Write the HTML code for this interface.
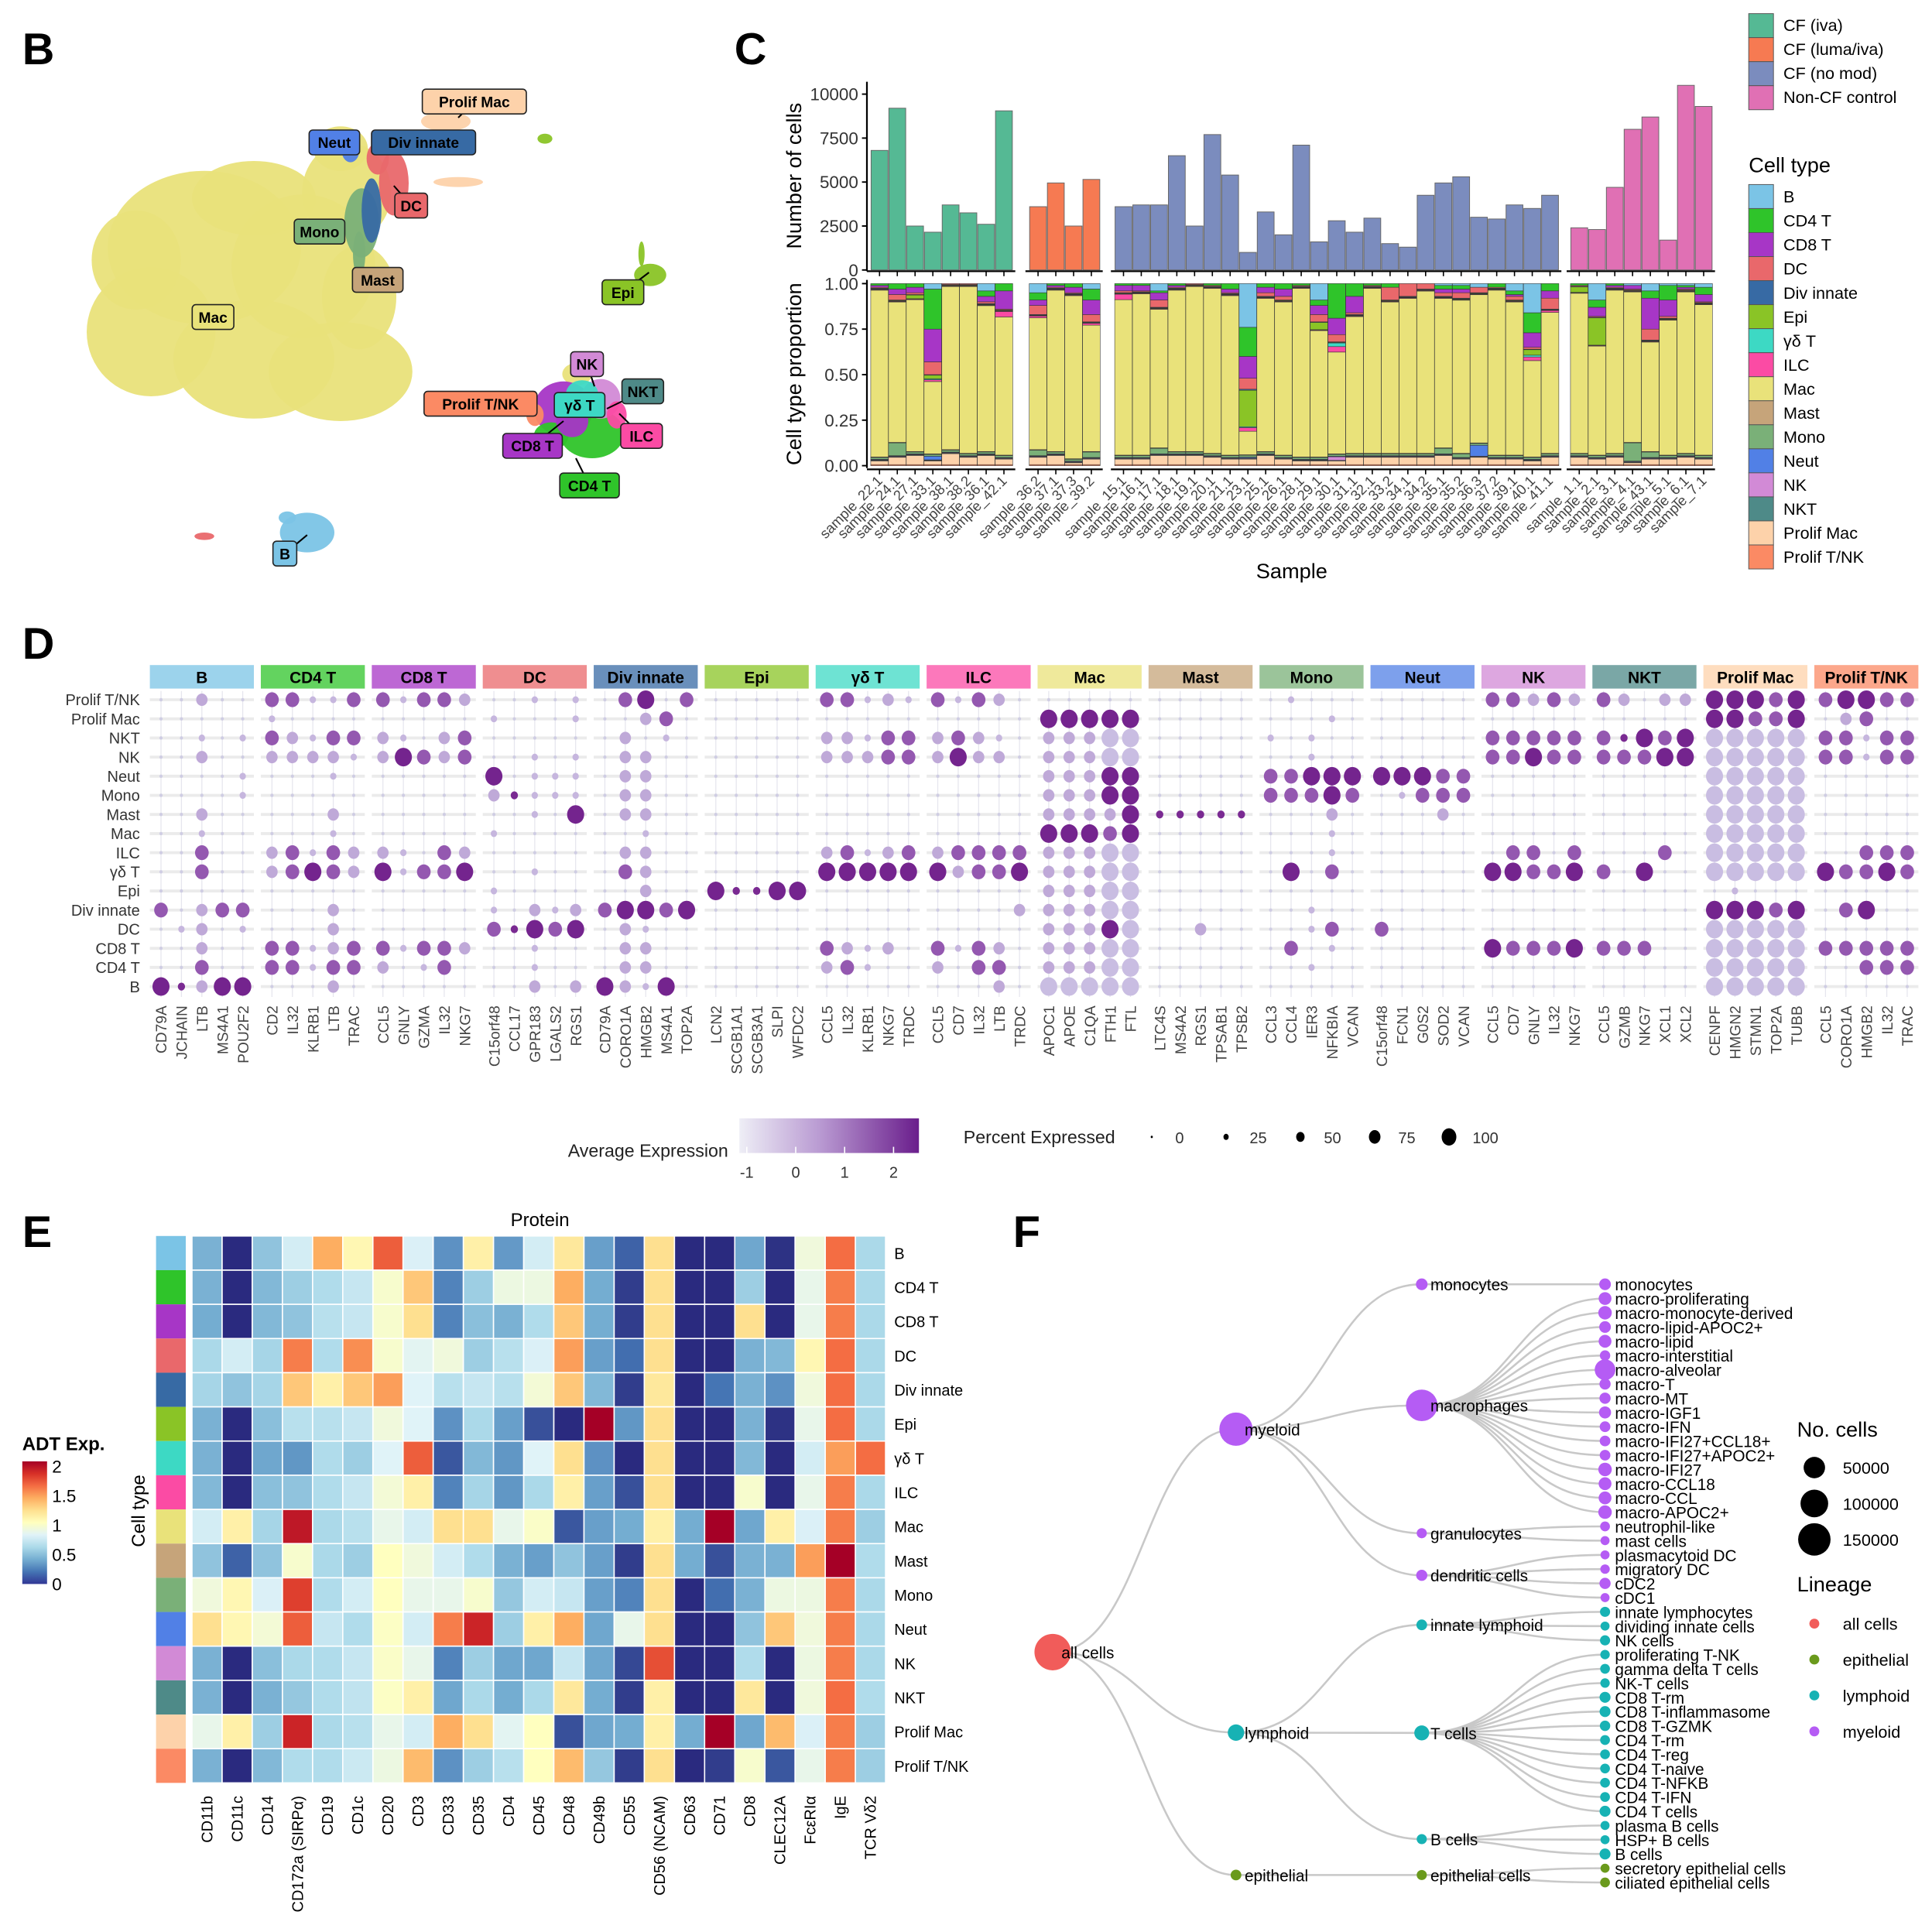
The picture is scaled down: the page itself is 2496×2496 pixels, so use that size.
<!DOCTYPE html>
<html><head><meta charset="utf-8">
<style>
html,body{margin:0;padding:0;background:#fff;}
svg{display:block;font-family:"Liberation Sans",Arial,sans-serif;}
</style></head>
<body>
<svg id="fig" xmlns="http://www.w3.org/2000/svg" width="2496" height="2496" viewBox="0 0 1560 1560">
<defs>
<linearGradient id="gAvg" x1="0" x2="1" y1="0" y2="0">
<stop offset="0" stop-color="#eeeef6"/><stop offset="0.45" stop-color="#b99ad2"/><stop offset="1" stop-color="#6a1e8c"/>
</linearGradient>
<linearGradient id="gAdt" x1="0" x2="0" y1="1" y2="0">
<stop offset="0" stop-color="#313695"/><stop offset="0.1" stop-color="#4575b4"/><stop offset="0.2" stop-color="#74add1"/><stop offset="0.3" stop-color="#abd9e9"/><stop offset="0.4" stop-color="#e0f3f8"/><stop offset="0.5" stop-color="#ffffbf"/><stop offset="0.6" stop-color="#fee090"/><stop offset="0.7" stop-color="#fdae61"/><stop offset="0.8" stop-color="#f46d43"/><stop offset="0.9" stop-color="#d73027"/><stop offset="1" stop-color="#a50026"/>
</linearGradient>
</defs>
</svg>
<script>
// ===== Panel C data =====
const groupNames = ["CF (iva)","CF (luma/iva)","CF (no mod)","Non-CF control"];
const groupColors = ["#55b994","#f67a52","#7b8cbe","#e070b4"];
const samplesIva = ["sample_22.1","sample_24.1","sample_27.1","sample_33.1","sample_38.1","sample_38.2","sample_36.1","sample_42.1"];
const samplesLuma = ["sample_36.2","sample_37.1","sample_37.3","sample_39.2"];
const samplesNoMod = ["sample_15.1","sample_16.1","sample_17.1","sample_18.1","sample_19.1","sample_20.1","sample_21.1","sample_23.1","sample_25.1","sample_26.1","sample_28.1","sample_29.1","sample_30.1","sample_31.1","sample_32.1","sample_33.2","sample_34.1","sample_34.2","sample_35.1","sample_35.2","sample_36.3","sample_37.2","sample_39.1","sample_40.1","sample_41.1"];
const samplesCtrl = ["sample_1.1","sample_2.1","sample_3.1","sample_4.1","sample_43.1","sample_5.1","sample_6.1","sample_7.1"];
const countsIva = [6800,9200,2500,2150,3700,3250,2600,9050];
const countsLuma = [3600,4950,2500,5150];
const countsNoMod = [3600,3700,3700,6500,2500,7700,5400,1000,3300,2000,7100,1600,2800,2150,2950,1500,1300,4250,4950,5300,3000,2900,3700,3500,4250];
const countsCtrl = [2400,2300,4700,8000,8700,1700,10500,9300];
const countTicks = [0,2500,5000,7500,10000];
const propTicks = [0,0.25,0.5,0.75,1];
const propTickLabels = ["0.00","0.25","0.50","0.75","1.00"];
const cellTypes = ["B","CD4 T","CD8 T","DC","Div innate","Epi","γδ T","ILC","Mac","Mast","Mono","Neut","NK","NKT","Prolif Mac","Prolif T/NK"];
const cellColors = ["#7bc4e6","#2fc42a","#a736c6","#e9686b","#376aa4","#8ac426","#3dd9c4","#fb4ba4","#e9e27a","#c6a47a","#7ab078","#5180e6","#d28ad6","#4e8a88","#fdd2aa","#fb8a64"];
const propB    = [0,0,0,.03,0,0,.04,0, .05,0,0,.03, 0,0,.04,0,0,0,0,.24,0,0,0,.09,0,0,0,0,0,0,.01,.01,.02,0,.04,.16,0, 0,.09,0,.01,.04,.01,.01,.02];
const propCD4  = [.01,.03,.02,.22,0,0,.03,.04, .04,.01,.02,.06, .01,.01,.01,.01,0,.01,.03,.16,.02,.03,.01,.03,.19,.07,.01,.02,0,0,.02,.02,0,.02,.02,.11,.04, .01,.04,.01,0,.04,.08,.01,.04];
const propCD8  = [.01,.03,.03,.18,0,0,.03,.10, .03,.01,.03,.08, .03,.03,.04,.01,0,0,.02,.12,.03,.04,0,.05,.09,.09,0,0,0,0,.02,.02,0,0,.01,.08,.04, 0,.05,.01,.02,.17,.09,.01,.04];
const propDC   = [.005,.03,.01,.07,.005,.005,.01,.005, .05,.005,.005,.04, .01,.005,.04,.005,.005,.005,.005,.06,.02,.02,.005,.04,.04,.01,.005,.07,.07,.03,.02,.03,.03,.005,.02,.01,.06, .005,.005,.005,.005,.06,.01,.005,.005];
const propDiv  = [.003,.003,.003,.003,.003,.003,.003,.003, .003,.003,.003,.003, .003,.003,.003,.003,.003,.003,.003,.006,.003,.003,.003,.003,.003,.003,.003,.003,.003,.003,.003,.003,.003,.003,.003,.003,.003, .003,.003,.003,.003,.003,.003,.003,.003];
const propEpi  = [.003,.003,.02,.02,.003,.003,.003,.003, .003,.003,.003,.003, .003,.003,.003,.003,.003,.003,.003,.20,.003,.003,.003,.04,.003,.003,.003,.003,.003,.003,.003,.003,.003,.003,.003,.03,.003, .03,.15,.003,.003,.003,.003,.003,.003];
const propGdT  = [.002,.002,.002,.005,.002,.002,.002,.002, .002,.002,.002,.002, .002,.002,.002,.002,.002,.002,.002,.005,.002,.002,.002,.002,.02,.002,.002,.002,.002,.002,.002,.002,.002,.002,.002,.01,.002, .002,.002,.002,.002,.002,.002,.002,.002];
const propILC  = [.003,.003,.003,.01,.003,.003,.003,.03, .01,.003,.003,.01, .03,.003,.003,.003,.003,.003,.003,.02,.003,.003,.003,.003,.03,.003,.003,.003,.003,.003,.003,.003,.003,.003,.003,.02,.01, .003,.003,.003,.003,.003,.003,.003,.003];
const propMast = [.003,.003,.003,.003,.003,.003,.003,.003, .003,.003,.003,.003, .003,.003,.003,.003,.003,.003,.003,.003,.003,.003,.003,.003,.003,.003,.003,.003,.003,.003,.003,.003,.003,.003,.003,.003,.003, .003,.003,.003,.003,.003,.003,.003,.003];
const propMono = [.01,.07,.01,.01,.01,.01,.01,.01, .03,.01,.01,.03, .01,.01,.03,.01,.01,.01,.01,.01,.01,.01,.01,.01,.01,.01,.01,.01,.01,.01,.03,.02,.01,.01,.01,.01,.01, .01,.01,.01,.10,.03,.01,.01,.01];
const propNeut = [.003,.003,.003,.02,.003,.003,.003,.003, .003,.003,.003,.003, .003,.003,.003,.003,.003,.003,.003,.005,.003,.003,.003,.003,.003,.003,.003,.003,.003,.003,.003,.003,.06,.003,.003,.003,.003, .003,.003,.003,.003,.003,.003,.003,.003];
const propNK   = [.003,.003,.003,.003,.003,.003,.003,.003, .003,.003,.003,.003, .003,.003,.003,.003,.003,.003,.003,.003,.003,.003,.003,.003,.02,.003,.003,.003,.003,.003,.003,.003,.003,.003,.003,.003,.003, .003,.003,.003,.003,.003,.003,.003,.003];
const propNKT  = [.003,.003,.003,.003,.003,.003,.003,.003, .003,.003,.003,.003, .003,.003,.003,.003,.003,.003,.003,.003,.003,.003,.003,.003,.003,.003,.003,.003,.003,.003,.003,.003,.003,.003,.003,.003,.003, .003,.003,.003,.003,.003,.003,.003,.003];
const propPMac = [.02,.04,.05,.02,.06,.04,.05,.03, .04,.05,.01,.03, .03,.03,.05,.05,.05,.04,.03,.03,.05,.03,.02,.02,.02,.04,.04,.04,.04,.04,.05,.03,.04,.03,.03,.02,.04, .04,.03,.04,.01,.03,.03,.04,.03];
const propPTNK = [.006,.006,.006,.006,.006,.006,.006,.006, .006,.006,.006,.006, .006,.006,.006,.006,.006,.006,.006,.006,.006,.006,.006,.006,.006,.006,.006,.006,.006,.006,.006,.006,.006,.006,.006,.006,.006, .006,.006,.006,.006,.006,.006,.006,.006];

// ===== Panel D data =====
const dotGroups = ["B","CD4 T","CD8 T","DC","Div innate","Epi","γδ T","ILC","Mac","Mast","Mono","Neut","NK","NKT","Prolif Mac","Prolif T/NK"];
const dotGenes = ["CD79A","JCHAIN","LTB","MS4A1","POU2F2","CD2","IL32","KLRB1","LTB","TRAC","CCL5","GNLY","GZMA","IL32","NKG7","C15orf48","CCL17","GPR183","LGALS2","RGS1","CD79A","CORO1A","HMGB2","MS4A1","TOP2A","LCN2","SCGB1A1","SCGB3A1","SLPI","WFDC2","CCL5","IL32","KLRB1","NKG7","TRDC","CCL5","CD7","IL32","LTB","TRDC","APOC1","APOE","C1QA","FTH1","FTL","LTC4S","MS4A2","RGS1","TPSAB1","TPSB2","CCL3","CCL4","IER3","NFKBIA","VCAN","C15orf48","FCN1","G0S2","SOD2","VCAN","CCL5","CD7","GNLY","IL32","NKG7","CCL5","GZMB","NKG7","XCL1","XCL2","CENPF","HMGN2","STMN1","TOP2A","TUBB","CCL5","CORO1A","HMGB2","IL32","TRAC"];
const dotRows = ["Prolif T/NK","Prolif Mac","NKT","NK","Neut","Mono","Mast","Mac","ILC","γδ T","Epi","Div innate","DC","CD8 T","CD4 T","B"];
const dotLevels = [
"..q.. bbaab babbq ..a.a .bc.b ..... bbaqa babq. ..... ..... .a... ..... bbqbq bq.qq cccbc bccbb",
"..... a.... ..... a...a ..qb. ..... ..... ..... ccccc ..... ...a. ..... ..... ..... ccbbc .qb..",
"..a.a bqabb qa.qb ..... .q.a. ..... qqabb qbqa. qqqpp ..... a.a.. ..... bbbbb bdcbc ppppp bbabb",
"..q.. qqqqa qcbqb ..a.a .qq.. ..... qqqbb qcqq. qqqpp ..... ..a.. ..... bbcbb bbbcc ppppp bbabb",
"....a ...a. ..... c.aaa .qq.. ..... ..... ..... qqqcc ..... bbccc cccbb ..... ..... ppppp .....",
"....a ..... ..... qdaaa .qq.. ..... ..... ..... qqqcc ..... bbbcb .abbb ..... ..... ppppp .....",
"..q.. ...q. ..... ..a.c .qq.. ..... ..... ..... qqqqc ddddd ...q. ...q. ..... ..... ppppp .....",
"..a.. ...a. ..... a.... ..a.. ..... ..... ..... cccbc ..... ...a. ..... ..... ..... ppppp .....",
"..b.. qbabq qa.bq ..... .qq.. ..... qbaqb qbbbb qqqpp ..... ...a. ..... .bb.b ...b. ppppp ..bbb",
"..b.. qbcbq cabbc ..a.. .bq.. ..... ccccc cqbbc qqqpp ..... .c.b. ..... ccbbc b.c.. ppppp cbbcb",
"..... ..... ..... a.... ..q.. cddcc ..... ..... qqqpp ..... ..... ..... ..... ..... .a... .....",
"b.qbb ...q. ..... a.qaq bccbc ..... ..... ....q qqqpp ..... ..a.. ..... ..... ..... cccbc .bc..",
".aq.a ...q. ..... bdcbc .qa.. ..... ..... ..... qqqcp ..q.. ..ab. b.... ..... ..... ppppp .....",
"..q.. bbaqb babbq ..a.. .qq.. ..... bqaq. babq. qqqpp ..... .b.a. ..... cbbbc bbb.. ppppp bbbbb",
"..b.. bbabb q.ab. ..a.. .qq.. ..... qba.. q.bb. qqqpp ..... ..a.. ..... ..... ..... ppppp ..bbb",
"cdqcc ...q. ..... ..q.q cqac. ..... ..... ...q. ppppp ..... ..... ..... ..... ..... ppppp ....."
];
const avgTicks = [-1,0,1,2];
const pctTicks = [0,25,50,75,100];

// ===== Panel E data =====
const proteins = ["CD11b","CD11c","CD14","CD172a (SIRPα)","CD19","CD1c","CD20","CD3","CD33","CD35","CD4","CD45","CD48","CD49b","CD55","CD56 (NCAM)","CD63","CD71","CD8","CLEC12A","FcεRIα","IgE","TCR Vδ2"];
const heatRows = ["B","CD4 T","CD8 T","DC","Div innate","Epi","γδ T","ILC","Mac","Mast","Mono","Neut","NK","NKT","Prolif Mac","Prolif T/NK"];
const adtB    = [.42,0,.5,.75,1.4,1.05,1.65,.78,.3,1.1,.33,.75,1.15,.35,.15,1.2,0,0,.38,.02,.9,1.6,.6];
const adtCD4  = [.42,0,.45,.55,.62,.7,.95,1.3,.25,.55,.88,.88,1.4,.4,.05,1.2,0,0,.55,0,.85,1.55,.6];
const adtCD8  = [.4,0,.45,.5,.65,.7,.95,1.2,.25,.48,.42,.62,1.3,.4,.05,1.2,0,0,1.2,0,.85,1.55,.6];
const adtDC   = [.6,.75,.58,1.55,.62,1.5,.95,.82,.9,.55,.65,.78,1.45,.35,.18,1.2,0,0,.42,.45,1.05,1.6,.6];
const adtDiv  = [.58,.5,.58,1.3,1.1,1.3,1.45,.8,.65,.7,.65,.92,1.3,.45,.05,1.15,0,.2,.42,.3,.9,1.6,.6];
const adtEpi  = [.42,0,.48,.65,.65,.7,.9,.8,.3,.6,.35,.1,0,2.0,.32,1.2,0,0,.42,.02,.85,1.6,.6];
const adtGdT  = [.42,0,.38,.32,.62,.55,.8,1.65,.12,.45,.32,.8,1.2,.3,0,1.2,0,0,.45,0,.75,1.45,1.6];
const adtILC  = [.45,0,.48,.5,.62,.7,.92,1.1,.25,.58,.32,.6,1.1,.35,.1,1.2,0,0,.95,0,.85,1.55,.6];
const adtMac  = [.75,1.1,.58,1.9,.6,.65,.85,.75,1.2,1.2,.85,.97,.12,.35,.4,1.1,.4,2.0,.38,1.1,.78,1.55,.55];
const adtMast = [.5,.15,.5,.95,.6,.55,1.0,.9,.75,.62,.42,.35,.5,.35,.05,1.2,.4,.1,.42,.42,1.45,2.0,.62];
const adtMono = [.9,1.05,.78,1.75,.62,.75,1.0,.85,.85,.95,.52,.75,.7,.35,.25,1.2,0,.18,.42,.88,.88,1.55,.6];
const adtNeut = [1.2,1.05,.92,1.65,.7,.62,.98,.75,1.55,1.85,.55,1.1,1.4,.38,.85,1.2,0,0,.5,1.3,.9,1.55,.6];
const adtNK   = [.42,0,.48,.6,.62,.7,.97,.85,.25,.55,.38,.38,.7,.38,.08,1.7,0,0,.62,0,.88,1.55,.6];
const adtNKT  = [.42,0,.42,.52,.62,.68,.98,1.1,.38,.6,.4,.6,1.15,.4,.05,1.1,0,0,1.15,0,.9,1.6,.62];
const adtPMac = [.85,1.1,.55,1.85,.6,.65,.85,.75,1.4,1.2,.82,1.0,.1,.38,.4,1.1,.4,2.0,.38,1.35,.78,1.55,.55];
const adtPTNK = [.42,0,.45,.62,.62,.72,.88,1.35,.3,.55,.65,1.0,1.35,.52,.05,1.2,0,.05,.95,.12,.85,1.55,.55];
const adtTicks = [0,0.5,1,1.5,2];

// ===== Panel F data =====
const treeNames = ["all cells","myeloid","lymphoid","epithelial","monocytes","macrophages","granulocytes","dendritic cells","innate lymphoid","T cells","B cells","epithelial cells"];
const treeParents = [-1,0,0,0,1,1,1,1,2,2,2,3];
const treeDepth = [0,1,1,1,2,2,2,2,2,2,2,2];
const treeLineage = ["all cells","myeloid","lymphoid","epithelial","myeloid","myeloid","myeloid","myeloid","lymphoid","lymphoid","lymphoid","epithelial"];
const treeCounts = [200000,160000,22000,4000,6000,140000,3000,5000,4000,16000,3000,3000];
const leafNames = ["monocytes","macro-proliferating","macro-monocyte-derived","macro-lipid-APOC2+","macro-lipid","macro-interstitial","macro-alveolar","macro-T","macro-MT","macro-IGF1","macro-IFN","macro-IFI27+CCL18+","macro-IFI27+APOC2+","macro-IFI27","macro-CCL18","macro-CCL","macro-APOC2+","neutrophil-like","mast cells","plasmacytoid DC","migratory DC","cDC2","cDC1","innate lymphocytes","dividing innate cells","NK cells","proliferating T-NK","gamma delta T cells","NK-T cells","CD8 T-rm","CD8 T-inflammasome","CD8 T-GZMK","CD4 T-rm","CD4 T-reg","CD4 T-naive","CD4 T-NFKB","CD4 T-IFN","CD4 T cells","plasma B cells","HSP+ B cells","B cells","secretory epithelial cells","ciliated epithelial cells"];
const leafParents = [4,5,5,5,5,5,5,5,5,5,5,5,5,5,5,5,5,6,6,7,7,7,7,8,8,8,9,9,9,9,9,9,9,9,9,9,9,9,10,10,10,11,11];
const leafCounts = [6000,9000,11000,6000,9000,3500,45000,5000,5000,7000,4000,4000,4000,11000,9000,9000,11000,2500,1500,1500,2000,5000,1500,3000,1500,3000,2000,2500,2000,4500,4500,3500,2500,2500,2500,2500,2500,4500,1500,1500,4500,1500,2500];
const lineageNames = ["all cells","epithelial","lymphoid","myeloid"];
const lineageColors = ["#f15c5a","#6a9a1c","#17b2b4","#b55cf4"];
const sizeLegend = [50000,100000,150000];

// ===== drawing helpers =====
const NS = "http://www.w3.org/2000/svg";
const svg = document.getElementById("fig");
function mk(tag, attrs, parent){
  const e = document.createElementNS(NS, tag);
  for (const k in attrs) e.setAttribute(k, attrs[k]);
  (parent || svg).appendChild(e);
  return e;
}
function tx(x, y, s, attrs, parent){
  const e = mk("text", Object.assign({x:x, y:y}, attrs || {}), parent);
  e.textContent = s;
  return e;
}
function grp(parent){ return mk("g", {}, parent); }

[["B",18,52],["C",593,52],["D",18,532],["E",18,1007],["F",818,1007]].forEach(p=>{
  const t = tx(p[1], p[2], p[0], {"font-size":36,"font-weight":"bold"});
  
  
});

// ===== Panel B: UMAP =====
const umap = grp();


const blobs = [
 [165,200,78,62,"#e9e27a"],[122,268,52,52,"#e9e27a"],[205,290,65,48,"#e9e27a"],[275,300,58,40,"#e9e27a"],[245,215,58,58,"#e9e27a"],[290,240,30,42,"#e9e27a"],[110,210,36,40,"#e9e27a"],[205,160,50,30,"#e9e27a"],[280,155,36,40,"#e9e27a"],[275,120,22,18,"#e9e27a"],
 [292,180,14,28,"#7ab078"],[300,170,8,26,"#376aa4"],[318,148,12,26,"#e9686b"],[305,128,9,13,"#e9686b"],[283,122,7,9,"#5180e6"],[360,98,20,8,"#fdd2aa"],[370,147,20,4,"#fdd2aa"],[290,205,5,18,"#7ab078"],
 [525,222,13,9,"#8ac426"],[518,205,2.5,10,"#8ac426"],[440,112,6,4,"#8ac426"],
 [466,302,12,9,"#e9e27a"],[455,330,24,22,"#a736c6"],[478,350,26,20,"#2fc42a"],[485,322,16,16,"#d28ad6"],[470,318,13,11,"#3dd9c4"],[498,335,8,11,"#fb4ba4"],[445,352,14,11,"#2fc42a"],[432,335,7,9,"#fb8a64"],[462,340,13,13,"#a736c6"],
 [248,430,22,16,"#7bc4e6"],[232,418,7,5,"#7bc4e6"],[165,433,8,3,"#e9686b"]];
blobs.forEach(b=>{
  const e = mk("ellipse",{cx:b[0],cy:b[1],rx:b[2],ry:b[3],fill:b[4],opacity:0.95},umap);
  
  
});
const umapLabels = [
 ["Prolif Mac",383,82,"#fdd2aa",370,95],["Neut",270,115,"#5180e6",null,null],["Div innate",342,115,"#376aa4",null,null],["DC",332,166,"#e9686b",318,150],
 ["Mono",258,187,"#7ab078",null,null],["Mast",305,226,"#c6a47a",null,null],["Mac",172,256,"#e9e27a",null,null],["Epi",503,236,"#8ac426",524,220],
 ["NK",474,294,"#d28ad6",480,312],["NKT",519,316,"#4e8a88",490,330],["γδ T",468,327,"#3dd9c4",null,null],["Prolif T/NK",388,326,"#fb8a64",null,null],
 ["ILC",518,352,"#fb4ba4",500,334],["CD8 T",430,360,"#a736c6",455,340],["CD4 T",476,392,"#2fc42a",465,370],["B",230,447,"#7bc4e6",248,432]];
umapLabels.forEach(l=>{
  const g = grp(umap);
  
  
  if (l[4] !== null) mk("line",{x1:l[1],y1:l[2],x2:l[4],y2:l[5],stroke:"#000","stroke-width":1.3},g);
  const w = l[0].length*7.2 + 12;
  mk("rect",{x:l[1]-w/2,y:l[2]-10,width:w,height:20,rx:3,fill:l[3],stroke:"#222","stroke-width":1},g);
  tx(l[1], l[2]+4.5, l[0], {"font-size":12,"font-weight":"bold","text-anchor":"middle"},g);
});

// ===== Panel C =====
const panelC = grp();


const facetStart = [703, 831, 900, 1268];
const step = 14.35, barW = 13.6;
const allSamples = [samplesIva, samplesLuma, samplesNoMod, samplesCtrl];
const allCounts = [countsIva, countsLuma, countsNoMod, countsCtrl];
const yCount = v => 218 - v*0.0142;
const yProp = p => 376 - p*147;
const axC = grp(panelC);


mk("line",{x1:700,y1:66,x2:700,y2:219,stroke:"#000","stroke-width":1.4},axC);
countTicks.forEach(t=>{
  mk("line",{x1:696,y1:yCount(t),x2:700,y2:yCount(t),stroke:"#000","stroke-width":1.2},axC);
  tx(693, yCount(t)+5, String(t), {"font-size":14,"text-anchor":"end","fill":"#333"},axC);
});
const axP = grp(panelC);


mk("line",{x1:700,y1:226,x2:700,y2:378,stroke:"#000","stroke-width":1.4},axP);
propTicks.forEach((t,i)=>{
  mk("line",{x1:696,y1:yProp(t),x2:700,y2:yProp(t),stroke:"#000","stroke-width":1.2},axP);
  tx(693, yProp(t)+5, propTickLabels[i], {"font-size":14,"text-anchor":"end","fill":"#333"},axP);
});
let t1 = tx(0,0,"Number of cells",{"font-size":17,"text-anchor":"middle",transform:"translate(647,142) rotate(-90)"},panelC);


let t2 = tx(0,0,"Cell type proportion",{"font-size":17,"text-anchor":"middle",transform:"translate(647,302) rotate(-90)"},panelC);


let t3 = tx(1043,467,"Sample",{"font-size":17,"text-anchor":"middle"},panelC);



const propArrays = [propB,propCD4,propCD8,propDC,propDiv,propEpi,propGdT,propILC,null,propMast,propMono,propNeut,propNK,propNKT,propPMac,propPTNK];
let globalIdx = 0;
allSamples.forEach((samples, f)=>{
  const fx = facetStart[f];
  const fw = samples.length*step;
  mk("line",{x1:fx-3,y1:219,x2:fx+fw+2,y2:219,stroke:"#000","stroke-width":1.4},panelC);
  mk("line",{x1:fx-3,y1:379,x2:fx+fw+2,y2:379,stroke:"#000","stroke-width":1.4},panelC);
  samples.forEach((s, i)=>{
    const cx = fx + i*step + step/2;
    const c = allCounts[f][i];
    const bar = mk("rect",{x:cx-barW/2,y:yCount(c),width:barW,height:218-yCount(c),fill:groupColors[f],stroke:"#666","stroke-width":0.6},panelC);
    
    
    mk("line",{x1:cx,y1:219,x2:cx,y2:223,stroke:"#000","stroke-width":1},panelC);
    mk("line",{x1:cx,y1:379,x2:cx,y2:383,stroke:"#000","stroke-width":1},panelC);
    const vals = propArrays.map(a => a ? a[globalIdx] : 0);
    const sumOther = vals.reduce((a,b)=>a+b,0);
    vals[8] = Math.max(0, 1 - sumOther);
    let cum = 0;
    const stack = grp(panelC);
    
    
    for (let k = cellTypes.length-1; k >= 0; k--){
      const v = vals[k];
      if (v <= 0) continue;
      const seg = mk("rect",{x:cx-barW/2-0.3,y:yProp(cum+v),width:barW+0.6,height:v*147,fill:cellColors[k],stroke:"#333","stroke-width":0.35},stack);
      
      
      cum += v;
    }
    const lab = tx(0,0,s,{"font-size":11.5,"fill":"#444","text-anchor":"end",transform:`translate(${cx+3},${389}) rotate(-45)`},panelC);
    
    
    globalIdx++;
  });
});
const legG = grp(panelC);


groupNames.forEach((n,i)=>{
  const y = 11 + i*19.4;
  mk("rect",{x:1412,y:y,width:20,height:19.4,fill:groupColors[i],stroke:"#555","stroke-width":0.6},legG);
  const e = tx(1440, y+14, n, {"font-size":13.5},legG);
  
  
});
const legCT = grp(panelC);


tx(1412,139,"Cell type",{"font-size":17},legCT);
cellTypes.forEach((n,i)=>{
  const y = 149 + i*19.4;
  mk("rect",{x:1412,y:y,width:20,height:19.4,fill:cellColors[i],stroke:"#555","stroke-width":0.6},legCT);
  const e = tx(1440, y+14.5, n, {"font-size":13.5},legCT);
  
  
});

// ===== Panel D: dot plot =====
const panelD = grp();


const rowY = i => 565 + i*15.44;
const geneX = j => 121 + Math.floor(j/5)*89.6 + 9 + (j%5)*16.5;
const lvl = {".":[1.4,"#cfcde3"],"a":[2.8,"#c6b6de"],"q":[5,"#bfa9d8"],"p":[7.5,"#c9bde2"],"b":[6,"#9458b0"],"c":[7.5,"#74248e"],"d":[3.2,"#7a2a92"]};
for (let i=0;i<dotRows.length;i++){
  dotGroups.forEach((g,gi)=>{
    const x0 = 121 + gi*89.6;
    mk("line",{x1:x0,y1:rowY(i),x2:x0+84,y2:rowY(i),stroke:"#ebebeb","stroke-width":2.4},panelD);
  });
}
dotGenes.forEach((g,j)=>{
  mk("line",{x1:geneX(j),y1:558,x2:geneX(j),y2:805,stroke:"#e6e6ee","stroke-width":0.8},panelD);
});
dotGroups.forEach((g,gi)=>{
  const x0 = 121 + gi*89.6;
  const h = grp(panelD);
  
  
  mk("rect",{x:x0,y:537,width:84,height:19,fill:cellColors[gi],opacity:0.75},h);
  tx(x0+42,551.5,g,{"font-size":13,"font-weight":"bold","text-anchor":"middle"},h);
});
dotRows.forEach((r,i)=>{
  const e = tx(113, rowY(i)+4.5, r, {"font-size":12.5,"text-anchor":"end","fill":"#333"},panelD);
  
  
  const codes = dotLevels[i].replace(/ /g,"");
  for (let j=0;j<dotGenes.length;j++){
    const L = lvl[codes[j]] || lvl["."];
    const d = mk("ellipse",{cx:geneX(j),cy:rowY(i),rx:L[0]*0.92,ry:L[0],fill:L[1]},panelD);
    
    
  }
});
dotGenes.forEach((g,j)=>{
  const e = tx(0,0,g,{"font-size":12,"fill":"#444","text-anchor":"end",transform:`translate(${geneX(j)+4.5},812) rotate(-90)`},panelD);
  
  
});
const legAvg = grp(panelD);


tx(588,934,"Average Expression",{"font-size":14.5,"text-anchor":"end","fill":"#222"},legAvg);
mk("rect",{x:597,y:903,width:145,height:28,fill:"url(#gAvg)"},legAvg);
const avgX = v => 603 + (v+1)*39.5;
avgTicks.forEach(t=>{
  mk("line",{x1:avgX(t),y1:926,x2:avgX(t),y2:931,stroke:"#fff","stroke-width":1},legAvg);
  tx(avgX(t),951,String(t),{"font-size":12.5,"text-anchor":"middle","fill":"#333"},legAvg);
});
const legPct = grp(panelD);


tx(778,923,"Percent Expressed",{"font-size":14.5,"fill":"#222"},legPct);
pctTicks.forEach((t,i)=>{
  const x = 930 + i*60;
  const r = 1 + t/100*6;
  mk("ellipse",{cx:x,cy:918,rx:r*0.85,ry:r,fill:"#000"},legPct);
  tx(x+19,923,String(t),{"font-size":12.5,"fill":"#333"},legPct);
});

// ===== Panel E: heatmap =====
const panelE = grp();
panelE.setAttribute('transform', 'translate(0,-6)');


const adtRows = [adtB,adtCD4,adtCD8,adtDC,adtDiv,adtEpi,adtGdT,adtILC,adtMac,adtMast,adtMono,adtNeut,adtNK,adtNKT,adtPMac,adtPTNK];
const stops = ["#2a2a7f","#4575b4","#74add1","#abd9e9","#e0f3f8","#ffffbf","#fee090","#fdae61","#f46d43","#d73027","#a50026"];
function hex2rgb(h){return [1,3,5].map(i=>parseInt(h.substr(i,2),16));}
function colorAt(v){
  const t = Math.max(0,Math.min(1,v/2))*10;
  const i = Math.min(9,Math.floor(t)), f = t - i;
  const a = hex2rgb(stops[i]), b = hex2rgb(stops[i+1]);
  return "rgb(" + a.map((c,k)=>Math.round(c+(b[k]-c)*f)).join(",") + ")";
}
const hx = j => 155 + j*24.35;
const hy = i => 1004 + i*27.6;
tx(436,996,"Protein",{"font-size":15,"text-anchor":"middle"},panelE);
heatRows.forEach((r,i)=>{
  const strip = mk("rect",{x:126,y:hy(i),width:24,height:27.6,fill:cellColors[i]},panelE);
  
  
  proteins.forEach((p,j)=>{
    const c = mk("rect",{x:hx(j),y:hy(i),width:24.35,height:27.6,fill:colorAt(adtRows[i][j]),stroke:"#fff","stroke-width":1},panelE);
    
    
  });
  const l = tx(722, hy(i)+18.5, r, {"font-size":12.5},panelE);
  
  
});
proteins.forEach((p,j)=>{
  const e = tx(0,0,p,{"font-size":12.5,"text-anchor":"end",transform:`translate(${hx(j)+16.5},1456) rotate(-90)`},panelE);
  
  
});
tx(0,0,"Cell type",{"font-size":15,"text-anchor":"middle",transform:"translate(117,1226) rotate(-90)"},panelE);
const legAdt = grp(panelE);


tx(18,1177,"ADT Exp.",{"font-size":15,"font-weight":"bold"},legAdt);
mk("rect",{x:18,y:1186,width:20,height:99,fill:"url(#gAdt)"},legAdt);
adtTicks.forEach(t=>{
  const y = 1285 - t/2*95;
  tx(42,y+5,String(t),{"font-size":14},legAdt);
});

// ===== Panel F: tree =====
const panelF = grp();
panelF.setAttribute('transform', 'translate(-2,-6)');


const depthX = [852,1000,1150,1298];
const leafY = k => 1043 + k*11.5;
const linColor = n => lineageColors[lineageNames.indexOf(n)];
const rad = c => Math.sqrt(c/150000)*10.5 + 2.6;
const nodeY = new Array(treeNames.length).fill(0);
for (let n=4;n<treeNames.length;n++){
  const ks = leafParents.map((p,k)=>p===n?k:-1).filter(k=>k>=0);
  nodeY[n] = ks.length===1 ? leafY(ks[0]) : (ks.reduce((a,k)=>a+leafY(k),0)/ks.length);
}
nodeY[4] = leafY(0);
nodeY[6] = 1244; nodeY[7] = 1278; nodeY[8] = 1318; nodeY[10] = 1491; nodeY[11] = 1520;
nodeY[1] = 1160; nodeY[2] = 1405; nodeY[3] = 1520; nodeY[0] = 1340;
function curve(x1,y1,x2,y2){
  const mx = (x1+x2)/2;
  return `M${x1},${y1} C${mx},${y1} ${mx},${y2} ${x2},${y2}`;
}
const edges = grp(panelF);


for (let n=1;n<treeNames.length;n++){
  const p = treeParents[n];
  mk("path",{d:curve(depthX[treeDepth[p]],nodeY[p],depthX[treeDepth[n]],nodeY[n]),fill:"none",stroke:"#c8c8c8","stroke-width":1.6},edges);
}
leafNames.forEach((l,k)=>{
  const p = leafParents[k];
  mk("path",{d:curve(depthX[2],nodeY[p],depthX[3],leafY(k)),fill:"none",stroke:"#c8c8c8","stroke-width":1.6},edges);
});
treeNames.forEach((n,i)=>{
  const x = depthX[treeDepth[i]], y = nodeY[i];
  const c = mk("circle",{cx:x,cy:y,r:rad(treeCounts[i]),fill:linColor(treeLineage[i])},panelF);
  
  
  tx(x+7, y+5, n, {"font-size":13},panelF);
});
leafNames.forEach((l,k)=>{
  const p = leafParents[k];
  const y = leafY(k);
  const c = mk("circle",{cx:depthX[3],cy:y,r:rad(leafCounts[k]),fill:linColor(treeLineage[p])},panelF);
  
  
  tx(depthX[3]+8, y+5, l, {"font-size":13},panelF);
});
const legN = grp(panelF);


tx(1453,1166,"No. cells",{"font-size":17},legN);
sizeLegend.forEach((s,i)=>{
  const y = 1191 + i*29;
  mk("circle",{cx:1467,cy:y,r:rad(s),fill:"#000"},legN);
  tx(1490,y+5,String(s),{"font-size":13.5},legN);
});
const legL = grp(panelF);


tx(1453,1291,"Lineage",{"font-size":17},legL);
lineageNames.forEach((n,i)=>{
  const y = 1317 + i*29;
  mk("circle",{cx:1467,cy:y,r:4,fill:lineageColors[i]},legL);
  const e = tx(1490,y+5,n,{"font-size":13.5},legL);
  
  
});
</script>
</body></html>
